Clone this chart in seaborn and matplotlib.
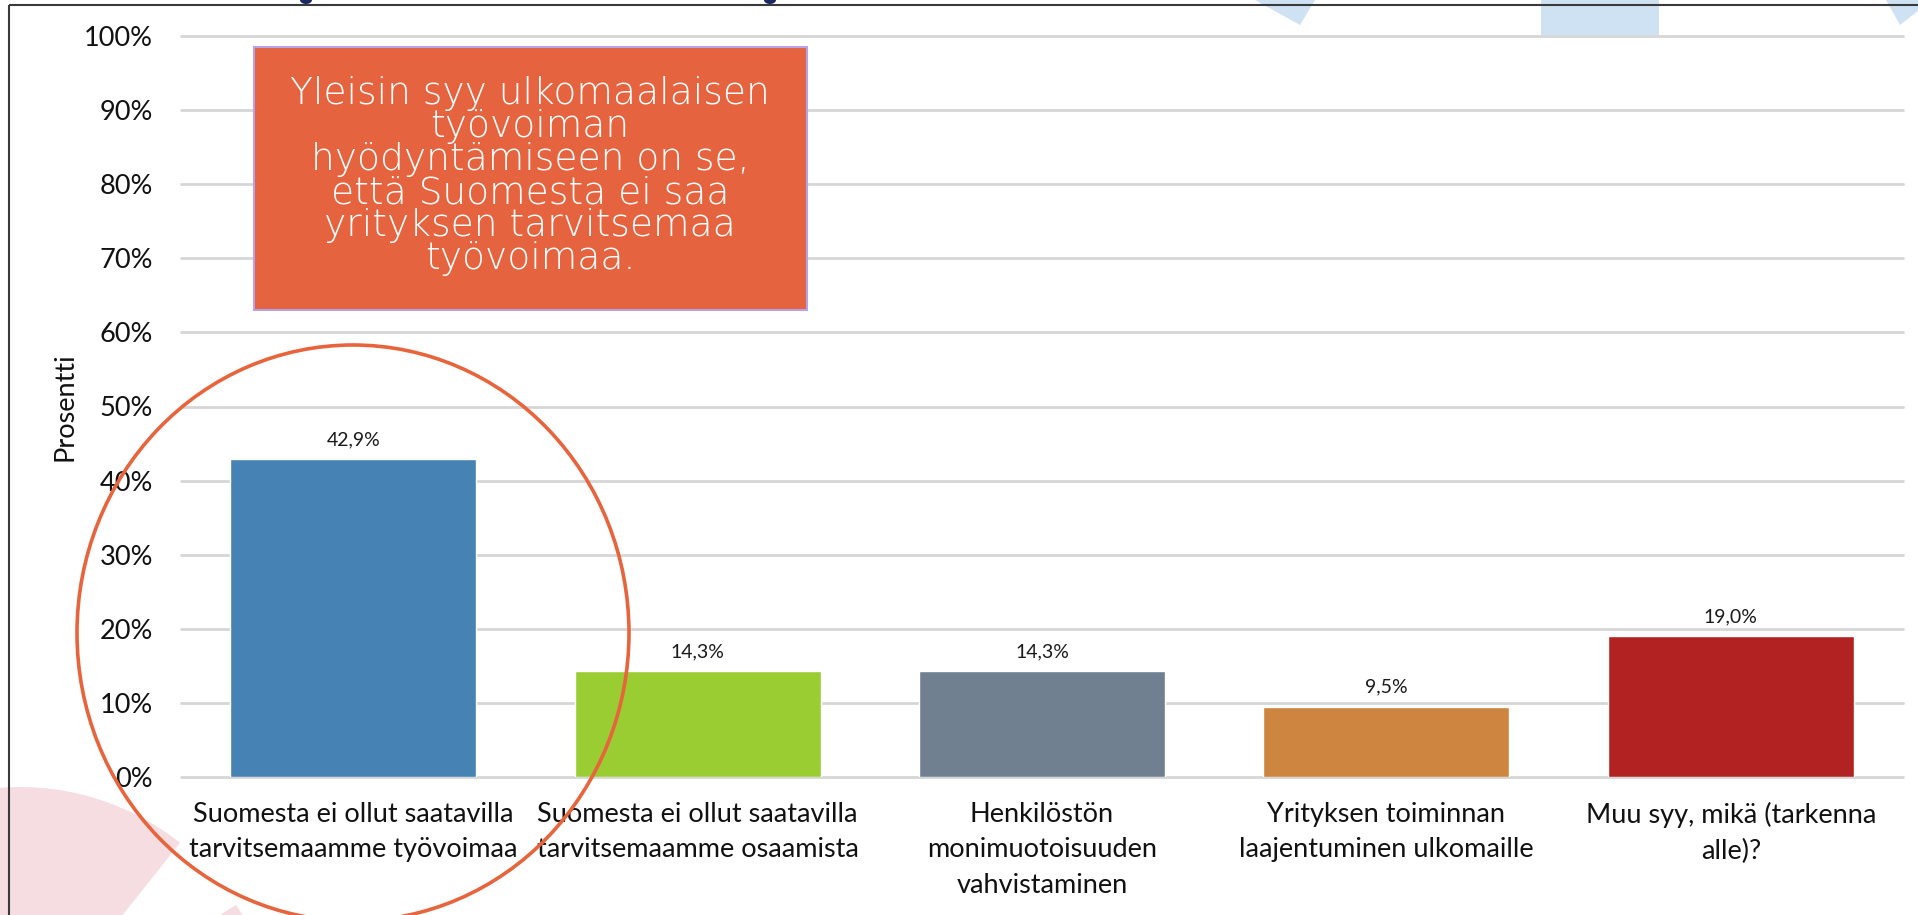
import matplotlib
matplotlib.use("Agg")
import matplotlib.pyplot as plt
from matplotlib.patches import Rectangle, Ellipse, Wedge, Polygon
import seaborn as sns

# data
categories = [
    "Suomesta ei ollut saatavilla\ntarvitsemaamme työvoimaa",
    "Suomesta ei ollut saatavilla\ntarvitsemaamme osaamista",
    "Henkilöstön\nmonimuotoisuuden\nvahvistaminen",
    "Yrityksen toiminnan\nlaajentuminen ulkomaille",
    "Muu syy, mikä (tarkenna\nalle)?",
]
values = [42.9, 14.3, 14.3, 9.5, 19.0]
bar_colors = ["#4682B4", "#9ACD32", "#708090", "#CD853F", "#B22222"]
y_ticks = [0, 10, 20, 30, 40, 50, 60, 70, 80, 90, 100]
y_label = "Prosentti"
callout = ("Yleisin syy ulkomaalaisen\ntyövoiman\nhyödyntämiseen on se,\n"
           "että Suomesta ei saa\nyrityksen tarvitsemaa\ntyövoimaa.")

W, H = 1918, 915

sns.set_theme(style="white")
plt.rcParams["font.family"] = ["Lato", "DejaVu Sans"]

fig = plt.figure(figsize=(W / 100, H / 100), dpi=100)

# slide background decorations (pixel coordinates, y down)
bg = fig.add_axes([0, 0, 1, 1], zorder=0)
bg.set_xlim(0, W)
bg.set_ylim(H, 0)
bg.axis("off")
bg.add_patch(Wedge((20, 1044), 257, -32.8, 308.5, facecolor="#F5DDE2", edgecolor="none"))
bg.add_patch(Polygon([(1255, 0), (1315, 0), (1300, 25)], facecolor="#CFE2F3", edgecolor="none"))
bg.add_patch(Rectangle((1541, 0), 118, 35, facecolor="#CFE2F3", edgecolor="none"))
bg.add_patch(Polygon([(1886, 0), (1900, 25), (1918, 11), (1918, 0)], facecolor="#CFE2F3", edgecolor="none"))
bg.add_patch(Ellipse((306, 0), 12, 8, facecolor="#1B2A5E", edgecolor="none"))
bg.add_patch(Ellipse((770, 0), 12, 8, facecolor="#1B2A5E", edgecolor="none"))
bg.plot([9, W], [5, 5], color="#3A3A3A", lw=1.5, solid_capstyle="butt")
bg.plot([9, 9], [5, H], color="#3A3A3A", lw=1.5, solid_capstyle="butt")

# main chart
ax = fig.add_axes([181 / W, 138 / H, 1722 / W, 741 / H], zorder=1)
ax.patch.set_alpha(0)
sns.barplot(x=categories, y=values, hue=categories, palette=bar_colors,
            width=0.714, saturation=1, legend=False, ax=ax)

for cont, v in zip(ax.containers, values):
    ax.bar_label(cont, labels=[f"{v:.1f}%".replace(".", ",")],
                 padding=8, fontsize=14, color="#1A1A1A")

ax.set_ylim(0, 100)
ax.set_yticks(y_ticks)
ax.set_yticklabels([f"{t}%" for t in y_ticks])
ax.set_xlim(-0.5, len(categories) - 0.5)
ax.set_xlabel("")
ax.set_ylabel(y_label, fontsize=19.5, color="#111111")
ax.yaxis.set_label_coords(-0.06, 0.5)
ax.yaxis.grid(True, color="#D6D6D6", linewidth=2.0)
ax.xaxis.grid(False)
ax.set_axisbelow(True)
for gl in ax.get_ygridlines():
    gl.set_clip_on(False)
for s in ax.spines.values():
    s.set_visible(False)
ax.tick_params(axis="y", length=0, pad=20, labelsize=19.5, labelcolor="#111111")
ax.tick_params(axis="x", length=0, pad=18, labelsize=19.5, labelcolor="#111111")
for lbl in ax.get_xticklabels():
    lbl.set_linespacing(1.52)

# callout box and highlight ellipse on top
ov = fig.add_axes([0, 0, 1, 1], zorder=2)
ov.set_xlim(0, W)
ov.set_ylim(H, 0)
ov.axis("off")
ov.patch.set_visible(False)
ov.add_patch(Rectangle((254, 47), 553, 263, facecolor="#E5643F", edgecolor="#B6A2E8", lw=1.5))
ov.text(530, 176, callout, ha="center", va="center", color="white",
        fontsize=27, family=["DejaVu Sans"], fontweight="light", linespacing=0.93)
ov.add_patch(Ellipse((353, 633), 552, 576, fill=False, edgecolor="#E8643C", lw=2.6))

fig.savefig("out.png", dpi=100)
